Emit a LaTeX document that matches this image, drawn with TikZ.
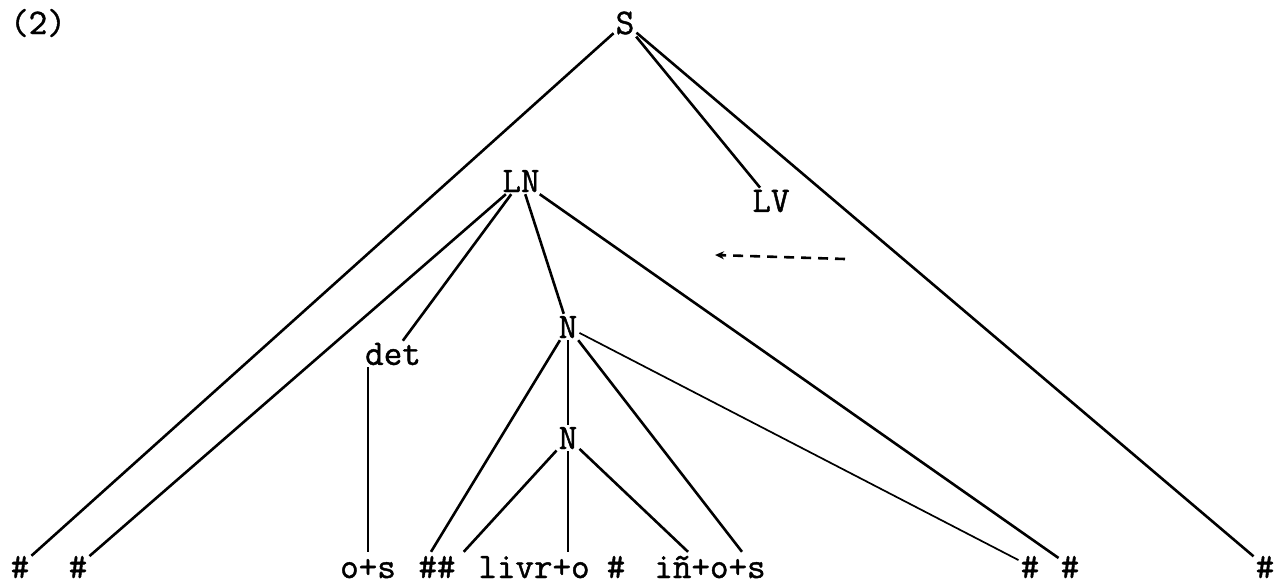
\documentclass[tikz,border=0pt]{standalone}
\usepackage{fontspec}
\newfontfamily\twfont{Latin Modern Mono}[FakeBold=1.2]
\usetikzlibrary{arrows.meta}
\begin{document}
\begin{tikzpicture}[x=1pt,y=-1pt,
  lbl/.style={font=\fontsize{36}{36}\selectfont\twfont, inner sep=2pt},
  leaf/.style={lbl, anchor=base, text height=24pt, text depth=0pt},
  edge/.style={line width=2.6pt},
  thinedge/.style={line width=1.7pt}]
\useasboundingbox (0,0) rectangle (1274,587);
% labels
\node[lbl,anchor=west] (num) at (8,23) {(2)};
\node[lbl] (S)   at (625,23)  {S};
\node[lbl] (LN)  at (521,181) {LN};
\node[lbl] (LV)  at (771,201) {LV};
\node[lbl] (det) at (393,354) {det};
\node[lbl] (N1)  at (568,327) {N};
\node[lbl] (N2)  at (568,438) {N};
% leaves
\node[leaf] (h1)    at (20,578)   {\#};
\node[leaf] (h2)    at (78,578)   {\#};
\node[leaf] (os)    at (368,578)  {o+s};
\node[leaf] (hh)    at (437,578)  {\#\#};
\node[leaf] (livro) at (534,578)  {livr+o};
\node[leaf] (h3)    at (616,578)  {\#};
\node[leaf] (inos)  at (710,578)  {iñ+o+s};
\node[leaf] (h4)    at (1030,578) {\#};
\node[leaf] (h5)    at (1070,578) {\#};
\node[leaf] (h6)    at (1265,578) {\#};
% connectors
\draw[edge] (S) -- (h1);
\draw[edge] (S) -- (LV);
\draw[edge] (S) -- (h6);
\draw[edge] (LN) -- (h2);
\draw[edge] (LN) -- (det);
\draw[edge] (LN) -- (N1);
\draw[edge] (LN) -- (h5);
\draw[edge] (det.south -| os) -- (os.north);
\draw[edge] (N1) -- ([xshift=-6pt]hh.north);
\draw[edge] (N1) -- (N2);
\draw[edge] (N1) -- ([xshift=32pt]inos.north);
\draw[thinedge] (N1) -- (h4);
\draw[edge] (N2) -- ([xshift=6pt]hh.north east);
\draw[edge] (N2.south) -- (N2.south |- livro.north);
\draw[edge] (N2) -- ([xshift=-22pt]inos.north);
% dashed arrow
\coordinate (arR) at (845,259);
\coordinate (arL) at (715,255);
\draw[line width=2.6pt, dash pattern=on 10pt off 7pt, -{Stealth[length=9pt,width=8pt]}] (arR) -- (arL);
\end{tikzpicture}
\end{document}
